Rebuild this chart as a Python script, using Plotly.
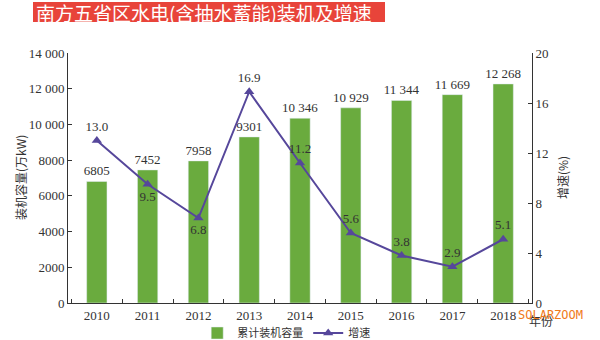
import plotly.graph_objects as go

# Hydropower (incl. pumped storage) capacity in five southern provinces
years = ["2010", "2011", "2012", "2013", "2014", "2015", "2016", "2017", "2018"]
capacity = [6805, 7452, 7958, 9301, 10346, 10929, 11344, 11669, 12268]
growth = [13.0, 9.5, 6.8, 16.9, 11.2, 5.6, 3.8, 2.9, 5.1]
growth_pos = ["top center", "bottom center", "bottom center", "top center", "top center",
              "top center", "top center", "top center", "top center"]

left_tickvals = [0, 2000, 4000, 6000, 8000, 10000, 12000, 14000]
left_ticktext = ["0", "2000", "4000", "6000", "8000", "10 000", "12 000", "14 000"]
right_tickvals = [0, 4, 8, 12, 16, 20]


def fmt_cap(v):
    return f"{v:,}".replace(",", " ") if v >= 10000 else str(v)


SERIF = "Liberation Serif"
CJK = "Noto Sans CJK SC"
INK = "#333333"
BAR = "#6aab3e"
LINE = "#56479b"

fig = go.Figure()
fig.add_trace(go.Bar(
    x=years, y=capacity, name="累计装机容量", marker_color=BAR, width=0.4,
    text=[fmt_cap(v) for v in capacity], textposition="outside", constraintext="none",
    textfont=dict(family=SERIF, size=13, color=INK), cliponaxis=False,
))
fig.add_trace(go.Scatter(
    x=years, y=growth, name="增速", yaxis="y2", mode="lines+markers+text",
    line=dict(color=LINE, width=2),
    marker=dict(symbol="triangle-up", size=9, color=LINE),
    text=[f"{v:.1f}" for v in growth], textposition=growth_pos,
    textfont=dict(family=SERIF, size=13, color=INK), cliponaxis=False,
))

axis_common = dict(showgrid=False, zeroline=False, showline=True, linecolor=INK,
                   linewidth=1, ticks="inside", ticklen=4, tickcolor=INK, automargin=False,
                   tickfont=dict(family=SERIF, size=13, color=INK))

fig.update_layout(
    width=600, height=340, margin=dict(l=68, r=68, t=53, b=37),
    paper_bgcolor="white", plot_bgcolor="white", bargap=0.6,
    xaxis=dict(type="category", tickson="boundaries", **axis_common),
    yaxis=dict(range=[0, 14000], tickvals=left_tickvals, ticktext=left_ticktext, **axis_common),
    yaxis2=dict(range=[0, 20], tickvals=right_tickvals, overlaying="y", side="right",
                **axis_common),
    legend=dict(orientation="h", x=0.477, xanchor="center", xref="container",
                y=7 / 340, yanchor="middle", yref="container",
                font=dict(family=CJK, size=11, color=INK), itemwidth=30,
                bgcolor="rgba(0,0,0,0)"),
    showlegend=True,
)

# Title banner
fig.add_shape(type="rect", xref="paper", yref="paper", x0=-35 / 464, x1=317 / 464,
              y0=1 + 31 / 250, y1=1 + 51 / 250, fillcolor="#e8443a", line_width=0, layer="below")
fig.add_annotation(text="南方五省区水电(含抽水蓄能)装机及增速", xref="paper", yref="paper",
                   x=-34 / 464, xanchor="left", y=1 + 41 / 250, yanchor="middle",
                   showarrow=False, font=dict(family=CJK, size=19, color="white"))

# Axis titles
fig.add_annotation(text="装机容量(万kW)", xref="paper", yref="paper", x=-48 / 464, y=0.5,
                   textangle=-90, showarrow=False, xanchor="center", yanchor="middle",
                   font=dict(family=CJK, size=12, color=INK))
fig.add_annotation(text="增速(%)", xref="paper", yref="paper", x=1 + 30 / 464, y=0.5,
                   textangle=-90, showarrow=False, xanchor="center", yanchor="middle",
                   font=dict(family=CJK, size=12, color=INK))
fig.add_annotation(text="年份", xref="paper", yref="paper", x=1 + 9 / 464, y=-17 / 250,
                   showarrow=False, xanchor="center", yanchor="middle",
                   font=dict(family=CJK, size=12, color=INK))
fig.add_annotation(text="SOLARZOOM", xref="paper", yref="paper", x=1 + 18 / 464, y=-12 / 250,
                   showarrow=False, xanchor="center", yanchor="middle",
                   font=dict(family="DejaVu Sans Mono", size=12, color="#f07a1a"))

fig.write_html("out.html")
